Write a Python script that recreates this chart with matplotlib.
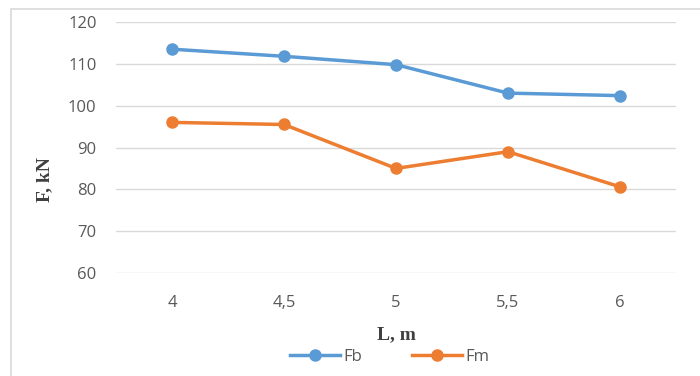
import matplotlib.pyplot as plt
from matplotlib.patches import Rectangle

lengths = ["4", "4,5", "5", "5,5", "6"]
fb = [113.5, 111.8, 109.8, 103.0, 102.4]
fm = [96.0, 95.5, 85.0, 89.0, 80.6]

blue = "#5B9BD5"
orange = "#ED7D31"
grey_text = "#595959"

fig = plt.figure(figsize=(7, 3.76), dpi=100)
W, H = 700, 376

# outer chart frame (cropped at right and bottom)
fig.patches.append(Rectangle((11 / W, -0.05), 1.1, 1 - 9 / H + 0.05,
                             transform=fig.transFigure, fill=False,
                             edgecolor="#D9D9D9", linewidth=1.2))

ax = fig.add_axes([116 / W, 1 - 273 / H, 560 / W, 251 / H])
x = range(len(lengths))
ax.plot(x, fb, color=blue, lw=2.5, marker="o", ms=8, label="Fb")
ax.plot(x, fm, color=orange, lw=2.5, marker="o", ms=8, label="Fm")

ax.set_xlim(-0.5, len(lengths) - 0.5)
ax.set_ylim(60, 120)
ax.set_yticks(range(60, 121, 10))
ax.set_xticks(list(x))
ax.set_xticklabels(lengths)
ax.grid(axis="y", color="#D9D9D9", lw=1)
ax.set_axisbelow(True)
for s in ax.spines.values():
    s.set_visible(False)
ax.tick_params(length=0, labelsize=12, colors=grey_text, pad=14)
ax.tick_params(axis="x", pad=16)
for lab in ax.get_xticklabels() + ax.get_yticklabels():
    lab.set_fontfamily("Open Sans")

ax.set_xlabel("L, m", fontfamily="Liberation Serif", fontweight="bold",
              fontsize=14, color="#404040")
ax.xaxis.set_label_coords(0.5, -(335 - 273) / 251, transform=ax.transAxes)
ax.xaxis.label.set_va("center")
ax.set_ylabel("F, kN", fontfamily="Liberation Serif", fontweight="bold",
              fontsize=14, color="#404040")
ax.yaxis.set_label_coords((45 - 116) / 560, (273 - 180) / 251)
ax.yaxis.label.set_va("center")

leg = fig.legend(loc="center", bbox_to_anchor=(390 / W, 1 - 357 / H), ncol=2,
                 frameon=False, handlelength=3.0, handletextpad=0.2,
                 columnspacing=3.0, prop={"family": "Open Sans", "size": 12})
for t in leg.get_texts():
    t.set_color(grey_text)

fig.savefig("out.png", dpi=100)
